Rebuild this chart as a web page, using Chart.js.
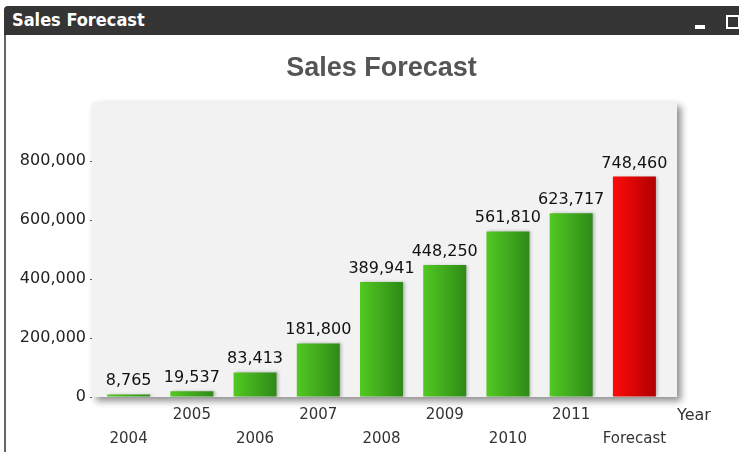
<!DOCTYPE html>
<html>
<head>
<meta charset="utf-8">
<title>Sales Forecast</title>
<script src="https://cdn.jsdelivr.net/npm/chart.js@4/dist/chart.umd.min.js"></script>
<style>
  body { margin: 0; background: #fff; }
  #wrap { position: relative; width: 739px; height: 452px; overflow: hidden; background: #fff; }
  canvas { position: absolute; left: 0; top: 0; }
  #bar { position: absolute; left: 4px; top: 6px; width: 745px; height: 29px; background: #353535; border-top-left-radius: 4px; }
  #bar span { position: absolute; left: 8px; top: 3px; color: #fff; font: bold 18px "DejaVu Sans Condensed", "DejaVu Sans", sans-serif; }
  #edge { position: absolute; left: 4px; top: 35px; width: 2px; bottom: 0; background: #666; }
  .min { position: absolute; left: 691px; top: 19px; width: 10px; height: 4px; background: #fff; }
  .max { position: absolute; left: 722px; top: 9px; width: 10px; height: 10px; border: 2px solid #fff; }
</style>
</head>
<body>
<div id="wrap">
  <canvas id="salesChart" width="739" height="452"></canvas>
  <div id="bar"><span>Sales Forecast</span><div class="min"></div><div class="max"></div></div>
  <div id="edge"></div>
</div>
<script>
const years = ['2004', '2005', '2006', '2007', '2008', '2009', '2010', '2011', 'Forecast'];
const sales = [8765, 19537, 83413, 181800, 389941, 448250, 561810, 623717, 748460];
const yTicks = [0, 200000, 400000, 600000, 800000];

const fmt = v => v.toLocaleString('en-US');

// horizontal gradient across each bar, red for the forecast column
function barFill(context) {
    const chart = context.chart;
    const area = chart.chartArea;
    if (!area) return '#3fae1f';
    const x = chart.scales.x.getPixelForValue(context.dataIndex);
    const half = (area.right - area.left) / years.length * 0.68 / 2;
    const g = chart.ctx.createLinearGradient(x - half, 0, x + half, 0);
    if (years[context.dataIndex] === 'Forecast') {
        g.addColorStop(0, '#ff0a0a');
        g.addColorStop(1, '#b00000');
    } else {
        g.addColorStop(0, '#52c922');
        g.addColorStop(1, '#2e8a17');
    }
    return g;
}

const panel = {
    id: 'panel',
    beforeDraw(chart) {
        const { ctx, chartArea: a } = chart;
        ctx.save();
        ctx.shadowColor = 'rgba(0,0,0,0.45)';
        ctx.shadowBlur = 7;
        ctx.shadowOffsetX = 4;
        ctx.shadowOffsetY = 4;
        ctx.fillStyle = '#f2f2f2';
        ctx.fillRect(a.left - 5, a.top, a.right - a.left + 16, a.bottom - a.top);
        ctx.restore();
    },
    beforeDatasetsDraw(chart) {
        const ctx = chart.ctx;
        ctx.save();
        ctx.shadowColor = 'rgba(0,0,0,0.25)';
        ctx.shadowBlur = 3;
        ctx.shadowOffsetX = 2;
        ctx.shadowOffsetY = 0;
    },
    afterDatasetsDraw(chart) {
        const ctx = chart.ctx;
        ctx.restore();
        ctx.save();
        ctx.font = '16px "DejaVu Sans"';
        ctx.fillStyle = '#111';
        ctx.textAlign = 'center';
        ctx.textBaseline = 'alphabetic';
        chart.getDatasetMeta(0).data.forEach((bar, i) => {
            ctx.fillText(fmt(sales[i]), bar.x, bar.y - 9);
        });
        ctx.font = '16px "DejaVu Sans"';
        ctx.fillStyle = '#333';
        ctx.textAlign = 'left';
        ctx.textBaseline = 'middle';
        ctx.fillText('Year', chart.chartArea.right + 11, 416);
        ctx.restore();
    }
};

new Chart(document.getElementById('salesChart'), {
    type: 'bar',
    data: {
        labels: years,
        datasets: [{
            data: sales,
            backgroundColor: barFill,
            borderWidth: 0,
            barPercentage: 0.68,
            categoryPercentage: 1
        }]
    },
    options: {
        responsive: false,
        animation: false,
        devicePixelRatio: 1,
        layout: { padding: { left: 0, right: 73, bottom: 3, top: 0 } },
        plugins: {
            legend: { display: false },
            tooltip: { enabled: false },
            title: {
                display: true,
                text: 'Sales Forecast',
                fullSize: false,
                color: '#555',
                font: { family: 'Liberation Sans', size: 27, weight: 'bold' },
                padding: { top: 52, bottom: 18 }
            }
        },
        scales: {
            x: {
                grid: { display: false, drawTicks: false },
                border: { display: false },
                ticks: {
                    autoSkip: false,
                    maxRotation: 0,
                    padding: 6,
                    color: '#333',
                    font: { family: 'DejaVu Sans', size: 15, lineHeight: 1.6 },
                    callback: (v, i) => i % 2 ? [years[i], ''] : ['', years[i]]
                },
                afterFit: s => { s.height = 52; }
            },
            y: {
                min: 0,
                max: 1000000,
                border: { display: false },
                grid: {
                    drawOnChartArea: false,
                    tickLength: 7,
                    tickColor: '#555',
                    tickBorderDash: [2, 20]
                },
                ticks: {
                    padding: 4,
                    color: '#222',
                    font: { family: 'DejaVu Sans', size: 16 },
                    callback: v => fmt(v)
                },
                afterBuildTicks: s => { s.ticks = yTicks.map(v => ({ value: v })); },
                afterFit: s => { s.width = 97; }
            }
        }
    },
    plugins: [panel]
});
</script>
</body>
</html>
